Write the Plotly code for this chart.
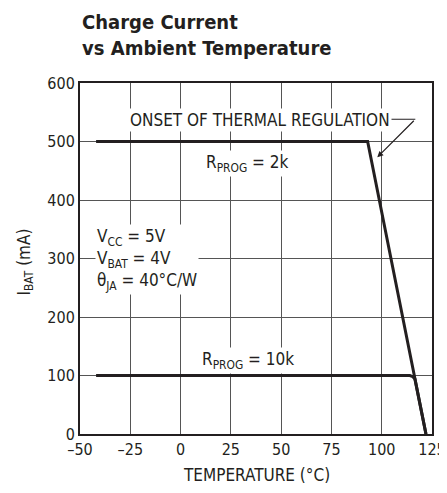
import plotly.graph_objects as go

# data
temp_2k = [-42, 93, 122]
ibat_2k = [500, 500, 0]
temp_10k = [-42, 114, 115.5, 116.5, 122]
ibat_10k = [100, 100, 98, 94, 0]

x_ticks = [-50, -25, 0, 25, 50, 75, 100, 125]
x_tick_labels = ["–50", "–25", "0", "25", "50", "75", "100", "125"]
y_ticks = [0, 100, 200, 300, 400, 500, 600]

FONT = "DejaVu Sans Condensed, Liberation Sans Narrow, sans-serif"
INK = "#231f20"

fig = go.Figure()
fig.add_trace(go.Scatter(x=temp_2k, y=ibat_2k, mode="lines",
                         line=dict(color=INK, width=3), hoverinfo="skip"))
fig.add_trace(go.Scatter(x=temp_10k, y=ibat_10k, mode="lines",
                         line=dict(color=INK, width=3), hoverinfo="skip"))

ann_font = dict(family=FONT, size=17, color=INK)
annotations = [
    dict(x=0, y=1 + 21 / 351, xref="paper", yref="paper",
         text="<b>Charge Current<br>vs Ambient Temperature</b>", showarrow=False,
         font=dict(family=FONT, size=20, color=INK), xanchor="left", yanchor="bottom",
         align="left"),
    dict(x=0.5, y=-41 / 351, xref="paper", yref="paper", text="TEMPERATURE (°C)",
         showarrow=False, font=ann_font, xanchor="center", yanchor="middle"),
    dict(x=-55 / 352, y=0.5 - 4 / 351, xref="paper", yref="paper", text="I<sub>BAT</sub> (mA)",
         showarrow=False, font=ann_font, xanchor="center", yanchor="middle", textangle=-90),
    dict(x=39.5, y=537, text="ONSET OF THERMAL REGULATION", showarrow=False,
         font=ann_font, bgcolor="white", xanchor="center", yanchor="middle"),
    dict(x=97.8, y=473, ax=116.7, ay=538, xref="x", yref="y", axref="x", ayref="y",
         text="", showarrow=True, arrowhead=2, arrowsize=1, arrowwidth=1.2,
         arrowcolor=INK),
    dict(x=33, y=463, text="R<sub>PROG</sub> = 2k", showarrow=False, font=ann_font,
         bgcolor="white", xanchor="center", yanchor="middle"),
    dict(x=33.5, y=126, text="R<sub>PROG</sub> = 10k", showarrow=False, font=ann_font,
         bgcolor="white", xanchor="center", yanchor="middle"),
    dict(x=-42.5, y=299, text="V<sub>CC</sub> = 5V<br>V<sub>BAT</sub> = 4V<br>θ<sub>JA</sub> = 40°C/W",
         showarrow=False, font=ann_font, bgcolor="white", xanchor="left",
         yanchor="middle", align="left"),
]

# page body adds an 8px offset; figure is sized so the plot lands where the reference has it
fig.update_layout(
    width=439, height=477,
    margin=dict(l=72, r=15, t=75, b=51),
    paper_bgcolor="white", plot_bgcolor="white",
    showlegend=False,
    font=dict(family=FONT, size=16, color=INK),
    annotations=annotations,
    shapes=[dict(type="line", xref="x", yref="y", x0=93.5, y0=538, x1=116.7, y1=538,
                 line=dict(color=INK, width=1.2))],
)
fig.update_xaxes(range=[-50, 125], tickvals=x_ticks, ticktext=x_tick_labels,
                 showgrid=True, gridcolor="#555555", gridwidth=1,
                 showline=True, linecolor=INK, linewidth=2, mirror=True,
                 ticks="", zeroline=False, tickfont=dict(size=16), automargin=False)
fig.update_yaxes(range=[0, 600], tickvals=y_ticks,
                 showgrid=True, gridcolor="#555555", gridwidth=1,
                 showline=True, linecolor=INK, linewidth=2, mirror=True,
                 ticks="", zeroline=False, tickfont=dict(size=16), automargin=False)

fig.write_html("out.html")
